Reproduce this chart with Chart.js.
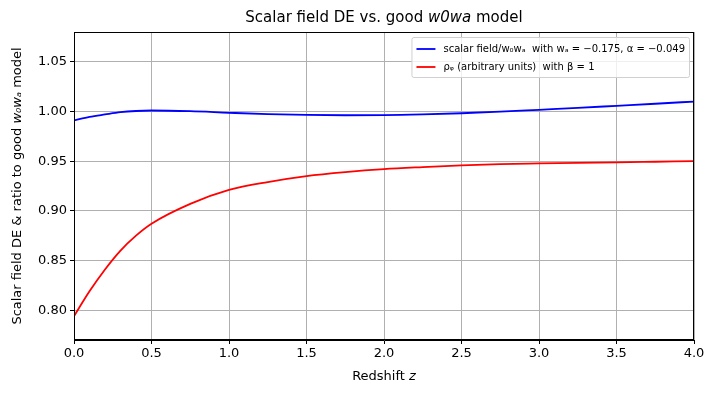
<!DOCTYPE html>
<html>
<head>
<meta charset="utf-8">
<script src="https://cdn.jsdelivr.net/npm/chart.js@4.4.1/dist/chart.umd.min.js"></script>
<style>
  html, body { margin: 0; padding: 0; background: #fff; }
  #wrap { width: 715px; height: 394px; }
</style>
</head>
<body>
<div id="wrap"><canvas id="chart" width="715" height="394"></canvas></div>
<script>
// redshift samples
const zs = [0, 0.1, 0.2, 0.3, 0.4, 0.5, 0.75, 1.0, 1.25, 1.5, 1.75, 2.0, 2.25, 2.5, 2.75, 3.0, 3.25, 3.5, 3.75, 4.0];
// ratio of scalar field to w0wa
const ratio = [0.991, 0.9945, 0.997, 0.9993, 1.0005, 1.001, 1.0003, 0.9987, 0.9973, 0.9965, 0.9962, 0.9963, 0.997, 0.9982, 0.9998, 1.0017, 1.0036, 1.0057, 1.0078, 1.010];
// rho_phi, arbitrary units
const rho = [0.794, 0.819, 0.841, 0.860, 0.875, 0.887, 0.907, 0.921, 0.929, 0.935, 0.939, 0.942, 0.944, 0.9457, 0.947, 0.9477, 0.9483, 0.9488, 0.9494, 0.950];

const xTicks = [0, 0.5, 1, 1.5, 2, 2.5, 3, 3.5, 4];
const yTicks = [0.80, 0.85, 0.90, 0.95, 1.00, 1.05];

const FONT = "'DejaVu Sans', sans-serif";

// text pieces: [string, italic?]
const titleParts = [['Scalar field DE vs. good ', false], ['w0wa', true], [' model', false]];
const xLabelParts = [['Redshift ', false], ['z', true]];
const yLabelParts = [['Scalar field DE & ratio to good ', false], ['w\u2080w\u2090', true], [' model', false]];

function pts(ys) {
  return zs.map((z, i) => ({ x: z, y: ys[i] }));
}

// draw mixed upright/italic text centred on (x, y)
function drawRich(ctx, parts, size, x, y, rot) {
  ctx.save();
  ctx.translate(x, y);
  ctx.rotate(rot || 0);
  ctx.fillStyle = '#000';
  ctx.textBaseline = 'middle';
  ctx.textAlign = 'left';
  let total = 0;
  const widths = parts.map(p => {
    ctx.font = (p[1] ? 'italic ' : '') + size + 'px ' + FONT;
    const w = ctx.measureText(p[0]).width;
    total += w;
    return w;
  });
  let cx = -total / 2;
  parts.forEach((p, i) => {
    ctx.font = (p[1] ? 'italic ' : '') + size + 'px ' + FONT;
    ctx.fillText(p[0], cx, 0);
    cx += widths[i];
  });
  ctx.restore();
}

const labels = {
  id: 'labels',
  afterDraw(chart) {
    const a = chart.chartArea, ctx = chart.ctx;
    const cx = (a.left + a.right) / 2;
    drawRich(ctx, titleParts, 15, cx, 18, 0);
    drawRich(ctx, xLabelParts, 13, cx, 377, 0);
    drawRich(ctx, yLabelParts, 13, 18, (a.top + a.bottom) / 2, -Math.PI / 2);
  }
};

// top & right spines
const frame = {
  id: 'frame',
  afterDatasetsDraw(chart) {
    const a = chart.chartArea, ctx = chart.ctx;
    ctx.save();
    ctx.strokeStyle = '#000';
    ctx.lineWidth = 1;
    ctx.strokeRect(a.left + 0.5, a.top + 0.5, a.right - a.left - 1, a.bottom - a.top - 1);
    ctx.restore();
  }
};

// matplotlib style legend, upper right inside the axes
const boxLegend = {
  id: 'boxLegend',
  afterDraw(chart) {
    const a = chart.chartArea, ctx = chart.ctx;
    const sets = chart.data.datasets;
    ctx.save();
    ctx.font = '10px ' + FONT;
    let w = 0;
    sets.forEach(d => { w = Math.max(w, ctx.measureText(d.label).width); });
    const boxW = w + 36, boxH = 40;
    const x0 = a.right - 5 - boxW, y0 = a.top + 5;
    ctx.fillStyle = 'rgba(255,255,255,0.8)';
    ctx.strokeStyle = '#d0d0d0';
    ctx.lineWidth = 1;
    ctx.beginPath();
    ctx.roundRect(x0 + 0.5, y0 + 0.5, boxW, boxH, 2);
    ctx.fill();
    ctx.stroke();
    sets.forEach((d, i) => {
      const y = y0 + 12 + i * 18;
      ctx.strokeStyle = d.borderColor;
      ctx.lineWidth = 1.8;
      ctx.beginPath();
      ctx.moveTo(x0 + 5, y);
      ctx.lineTo(x0 + 24, y);
      ctx.stroke();
      ctx.fillStyle = '#000';
      ctx.textBaseline = 'middle';
      ctx.fillText(d.label, x0 + 32, y);
    });
    ctx.restore();
  }
};

new Chart(document.getElementById('chart'), {
  type: 'line',
  data: {
    datasets: [
      {
        label: 'scalar field/w\u2080w\u2090  with w\u2090 = \u22120.175, \u03b1 = \u22120.049',
        data: pts(ratio),
        borderColor: 'blue',
        borderWidth: 1.8,
        pointRadius: 0,
        cubicInterpolationMode: 'monotone'
      },
      {
        label: '\u03c1\u1d69 (arbitrary units)  with \u03b2 = 1',
        data: pts(rho),
        borderColor: 'red',
        borderWidth: 1.8,
        pointRadius: 0,
        cubicInterpolationMode: 'monotone'
      }
    ]
  },
  options: {
    responsive: false,
    animation: false,
    layout: { padding: { left: 0, right: 21, top: 32, bottom: 0 } },
    plugins: {
      legend: { display: false },
      tooltip: { enabled: false },
      title: { display: false }
    },
    scales: {
      x: {
        type: 'linear',
        min: 0,
        max: 4,
        afterBuildTicks: s => { s.ticks = xTicks.map(v => ({ value: v })); },
        afterFit: s => { s.height = 54; },
        ticks: {
          color: '#000',
          font: { family: FONT, size: 13 },
          padding: 2,
          maxRotation: 0,
          callback: v => v.toFixed(1)
        },
        grid: { color: '#b0b0b0', lineWidth: 1, tickColor: '#000', tickLength: 4 },
        border: { color: '#000', width: 1 }
      },
      y: {
        min: 0.77,
        max: 1.08,
        afterBuildTicks: s => { s.ticks = yTicks.map(v => ({ value: v })); },
        afterFit: s => { s.width = 74; },
        ticks: {
          color: '#000',
          font: { family: FONT, size: 13 },
          padding: 3,
          callback: v => v.toFixed(2)
        },
        grid: { color: '#b0b0b0', lineWidth: 1, tickColor: '#000', tickLength: 4 },
        border: { color: '#000', width: 1 }
      }
    }
  },
  plugins: [frame, boxLegend, labels]
});
</script>
</body>
</html>
